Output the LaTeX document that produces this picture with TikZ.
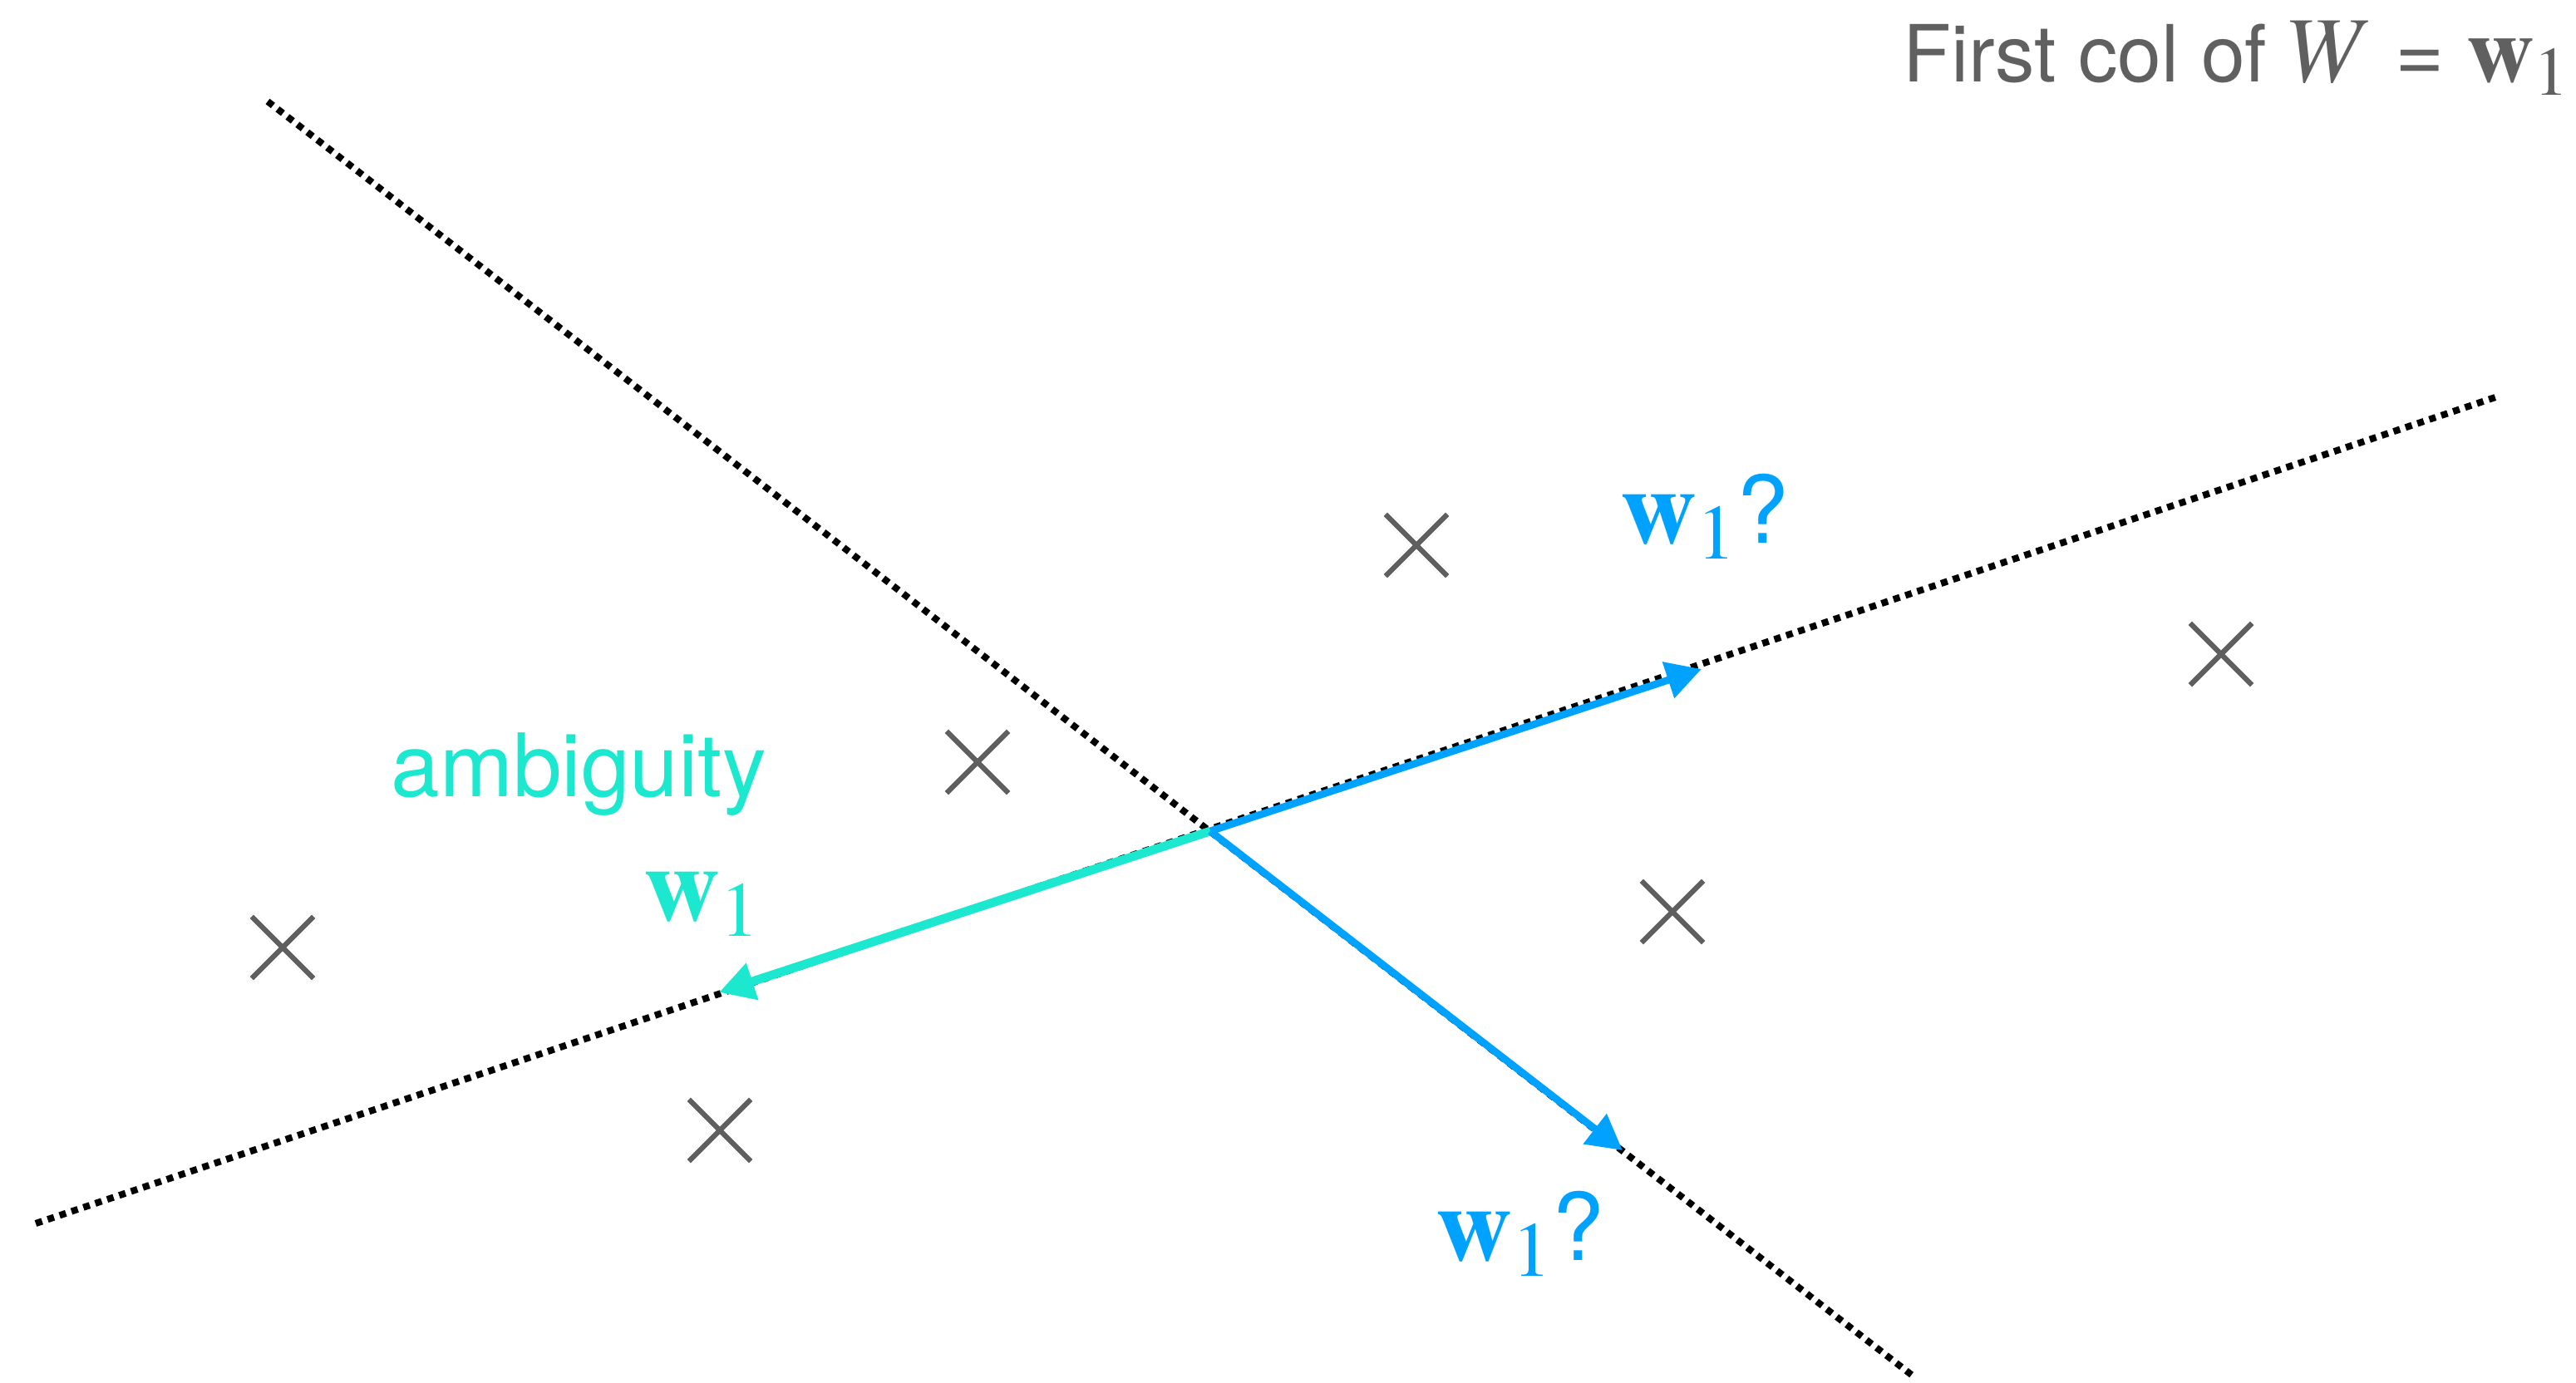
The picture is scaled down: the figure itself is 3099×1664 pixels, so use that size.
\documentclass[tikz,border=0pt]{standalone}
\usepackage{mathptmx}
\usepackage[no-math]{fontspec}
\setmainfont{TeX Gyre Heros}
\usetikzlibrary{arrows.meta, shapes.misc}
\definecolor{crossgray}{HTML}{5F5F5F}
\definecolor{titlegray}{HTML}{606060}
\definecolor{wblue}{HTML}{00A2FF}
\definecolor{wteal}{HTML}{1CE8CF}
\newcommand{\qmark}{{\fontsize{32}{36}\selectfont ?}}

\begin{document}
\begin{tikzpicture}[
    x=0.1mm, y=-0.1mm,
    sample/.style={cross out, draw=crossgray, line width=1.8pt, minimum size=6.8mm, inner sep=0pt},
    axisline/.style={line width=2.3pt, dash pattern=on 2.3pt off 2pt},
    wvec/.style={-{Triangle[length=12pt, width=12.5pt]}, line width=2.5pt, wblue},
    ambvec/.style={-{Triangle[length=12pt, width=12.5pt]}, line width=3pt, wteal},
    vlabel/.style={inner sep=0pt, anchor=base west, font=\fontsize{36}{40}\selectfont}
]
    \useasboundingbox (0,0) rectangle (3099,1664);

    % the two candidate axes
    \coordinate (o) at (1456,1000);
    \coordinate (la) at (322,122);
    \coordinate (lb) at (2302,1656);
    \coordinate (ma) at (43,1472);
    \coordinate (mb) at (3008,476);
    \draw[axisline] (la) -- (lb);
    \draw[axisline] (ma) -- (mb);

    % data points
    \node[sample] (x1) at (1704,656) {};
    \node[sample] (x2) at (2672,787) {};
    \node[sample] (x3) at (1176,917) {};
    \node[sample] (x4) at (2012,1097) {};
    \node[sample] (x5) at (340,1140) {};
    \node[sample] (x6) at (866,1360) {};

    % directions
    \coordinate (tup) at (2047,805);
    \coordinate (tdown) at (1952,1384);
    \coordinate (tleft) at (865,1194);
    \draw[ambvec] (o) -- (tleft);
    \draw[wvec] (o) -- (tup);
    \draw[wvec] (o) -- (tdown);

    \node[vlabel, wblue] (wup) at (1949,653) {$\mathbf{w}_1$\qmark};
    \node[vlabel, wblue] (wdown) at (1727,1516) {$\mathbf{w}_1$\qmark};
    \node[vlabel, wteal] (wleft) at (774,1107) {$\mathbf{w}_1$};
    \node[inner sep=0pt, anchor=base west, wteal, font=\fontsize{30}{34}\selectfont] (amb) at (470,958) {ambiguity};

    \node[inner sep=0pt, anchor=base east, titlegray, font=\fontsize{27}{30}\selectfont] (title) at (3093,98)
        {First col of {\fontsize{32}{36}\selectfont$W$} {\fontsize{29}{32}\selectfont=} {\fontsize{32}{36}\selectfont$\mathbf{w}_1$}};
\end{tikzpicture}
\end{document}
